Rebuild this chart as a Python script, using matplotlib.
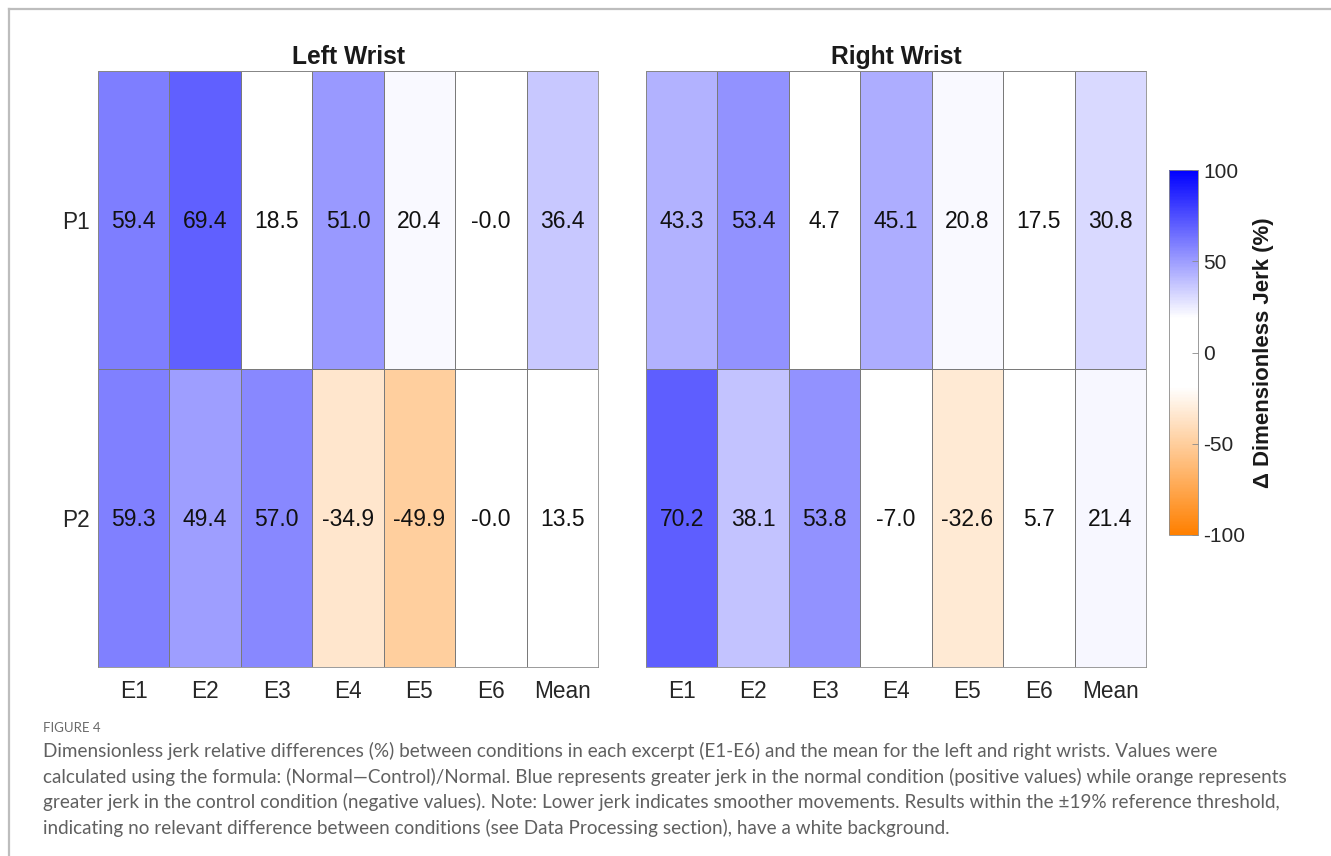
import numpy as np
import matplotlib
matplotlib.use("Agg")
import matplotlib.pyplot as plt
from matplotlib.colors import LinearSegmentedColormap, Normalize
from matplotlib.lines import Line2D

# ---- data ----
columns = ["E1", "E2", "E3", "E4", "E5", "E6", "Mean"]
rows = ["P1", "P2"]
left_p1 = [59.4, 69.4, 18.5, 51.0, 20.4, -0.0, 36.4]
left_p2 = [59.3, 49.4, 57.0, -34.9, -49.9, -0.0, 13.5]
right_p1 = [43.3, 53.4, 4.7, 45.1, 20.8, 17.5, 30.8]
right_p2 = [70.2, 38.1, 53.8, -7.0, -32.6, 5.7, 21.4]
titles = ["Left Wrist", "Right Wrist"]
threshold = 19
cbar_ticks = [-100, -50, 0, 50, 100]

plt.rcParams['font.family'] = ['Liberation Sans', 'DejaVu Sans']
plt.rcParams['axes.unicode_minus'] = False

W, H = 1331, 856
fig = plt.figure(figsize=(W / 100, H / 100), dpi=100)

lo = (-threshold + 100) / 200
hi = (threshold + 100) / 200
cmap = LinearSegmentedColormap.from_list(
    "jerk", [(0.0, (1.0, 0.5, 0.0)), (lo, (1, 1, 1)), (hi, (1, 1, 1)), (1.0, (0.0, 0.0, 1.0))], N=256)
norm = Normalize(-100, 100)

def fx(px):
    return px / W

def fy(py):
    return 1 - py / H

panels = [(98, np.array([left_p1, left_p2])), (646, np.array([right_p1, right_p2]))]
mesh = None
for (x0, data), title in zip(panels, titles):
    ax = fig.add_axes([fx(x0), fy(667), 500 / W, 596 / H])
    mesh = ax.pcolormesh(np.arange(len(columns) + 1), np.arange(len(rows) + 1), data,
                         cmap=cmap, norm=norm, edgecolors='#7a7a7a', linewidth=0.5)
    ax.set_xlim(0, len(columns))
    ax.set_ylim(len(rows), 0)
    for i in range(len(rows)):
        for j in range(len(columns)):
            ax.text(j + 0.5, i + 0.505, f"{data[i, j]:.1f}", ha='center', va='center',
                    fontsize=16.5, color='#111111')
    ax.set_xticks(np.arange(len(columns)) + 0.5)
    ax.set_xticklabels(columns, fontsize=16.3, color='#262626')
    ax.tick_params(length=0, pad=9)
    if x0 == 98:
        ax.set_yticks(np.arange(len(rows)) + 0.5)
        ax.set_yticklabels(rows, fontsize=16.3, color='#262626')
        ax.tick_params(axis='y', pad=6)
    else:
        ax.set_yticks([])
    for s in ax.spines.values():
        s.set_color('#8a8a8a')
        s.set_linewidth(0.6)
    ax.set_title(title, fontsize=17.7, fontweight='bold', color='#1a1a1a', pad=5)

cax = fig.add_axes([fx(1169), fy(535), 29 / W, 365 / H])
cb = fig.colorbar(mesh, cax=cax, ticks=cbar_ticks)
cb.outline.set_edgecolor('#8a8a8a')
cb.outline.set_linewidth(0.6)
cax.tick_params(labelsize=15, length=4, width=0.6, color='#8a8a8a', labelcolor='#262626', direction='in', pad=4)
cb.set_label("Δ Dimensionless Jerk (%)", fontsize=16, fontweight='bold', color='#1a1a1a', labelpad=5)

# frame
fig.add_artist(Line2D([fx(9), fx(9)], [fy(9), 0], color='#bdbdbd', lw=1.6))
fig.add_artist(Line2D([fx(9), 1], [fy(9), fy(9)], color='#bdbdbd', lw=1.6))

# caption
cap_font = ['Lato', 'DejaVu Sans']
fig.text(fx(43), fy(728), "FIGURE 4", fontsize=9.5, color='#6a6a6a', family=cap_font, va='center')
caption_lines = [
    "Dimensionless jerk relative differences (%) between conditions in each excerpt (E1-E6) and the mean for the left and right wrists. Values were",
    "calculated using the formula: (Normal\u2014Control)/Normal. Blue represents greater jerk in the normal condition (positive values) while orange represents",
    "greater jerk in the control condition (negative values). Note: Lower jerk indicates smoother movements. Results within the \u00b119% reference threshold,",
    "indicating no relevant difference between conditions (see Data Processing section), have a white background.",
]
for k, line in enumerate(caption_lines):
    fig.text(fx(43), fy(751 + 25.5 * k), line, fontsize=13.6, color='#606060', family=cap_font, va='center')

fig.savefig("out.png", dpi=100, facecolor='white')
